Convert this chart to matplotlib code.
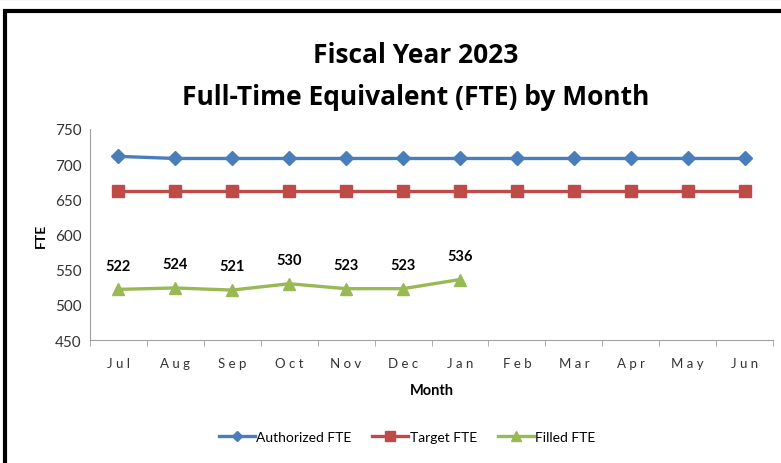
import matplotlib.pyplot as plt
from matplotlib.patches import Rectangle
from matplotlib.lines import Line2D

# FY2023 FTE by month
months = ['Jul', 'Aug', 'Sep', 'Oct', 'Nov', 'Dec', 'Jan', 'Feb', 'Mar', 'Apr', 'May', 'Jun']
authorized = [711, 708, 708, 708, 708, 708, 708, 708, 708, 708, 708, 708]
target = [662, 662, 662, 662, 662, 662, 662, 662, 662, 662, 662, 662]
filled = [522, 524, 521, 530, 523, 523, 536]
yticks = [450, 500, 550, 600, 650, 700, 750]

plt.rcParams['font.family'] = ['Lato', 'DejaVu Sans']

fig = plt.figure(figsize=(7.81, 4.64), dpi=100)
ax = fig.add_axes([0.115, 0.265, 0.875, 0.455])

x = list(range(len(months)))
ax.plot(x, authorized, color='#4A7EBB', lw=2.4, marker='D', ms=7, label='Authorized FTE')
ax.plot(x, target, color='#BE4B48', lw=2.4, marker='s', ms=9, label='Target FTE')
ax.plot(x[:len(filled)], filled, color='#98B954', lw=2.4, marker='^', ms=9, label='Filled FTE')

for i, v in enumerate(filled):
    ax.annotate(str(v), (i, v), xytext=(0, 12), textcoords='offset points',
                ha='center', va='bottom', fontsize=10.5, fontweight='bold')

ax.set_xlim(-0.5, len(months) - 0.5)
ax.set_ylim(450, 750)
ax.set_yticks(yticks)
ax.set_xticks(x)
ax.set_xticklabels([' '.join(m) for m in months], fontsize=9.5, color='#333333')
ax.set_xticks([i - 0.5 for i in range(len(months) + 1)], minor=True)
ax.tick_params(axis='x', which='major', length=0, pad=12)
ax.tick_params(axis='x', which='minor', length=4, color='#A0A0A0')
ax.tick_params(axis='y', length=0, labelsize=11, labelcolor='#333333', pad=6)
for s in ['top', 'right']:
    ax.spines[s].set_visible(False)
for s in ['left', 'bottom']:
    ax.spines[s].set_color('#A0A0A0')

ax.set_ylabel('FTE', fontsize=10, fontweight='bold', labelpad=6)
ax.set_xlabel('Month', fontsize=10.5, fontweight='bold', labelpad=10)

fig.text(0.532, 0.881, 'Fiscal Year 2023', ha='center', va='center',
         fontsize=19, fontweight='bold', family='Open Sans')
fig.text(0.532, 0.79, 'Full-Time Equivalent (FTE) by Month', ha='center', va='center',
         fontsize=19, fontweight='bold', family='Open Sans')

ax.legend(loc='center', bbox_to_anchor=(0.464, -0.46), ncol=3, frameon=False,
          fontsize=10, handlelength=2.6, handletextpad=0.1, columnspacing=1.5,
          markerscale=0.8)

# outer frame and top rule
fig.add_artist(Rectangle((5 / 781, -0.05), 1.1, 1 - 12 / 464 + 0.05, transform=fig.transFigure,
                         fill=False, edgecolor='black', lw=3))
fig.add_artist(Line2D([0, 1], [0.999, 0.999], transform=fig.transFigure, color='#1F3864', lw=1.5))

fig.savefig('out.png', dpi=100)
